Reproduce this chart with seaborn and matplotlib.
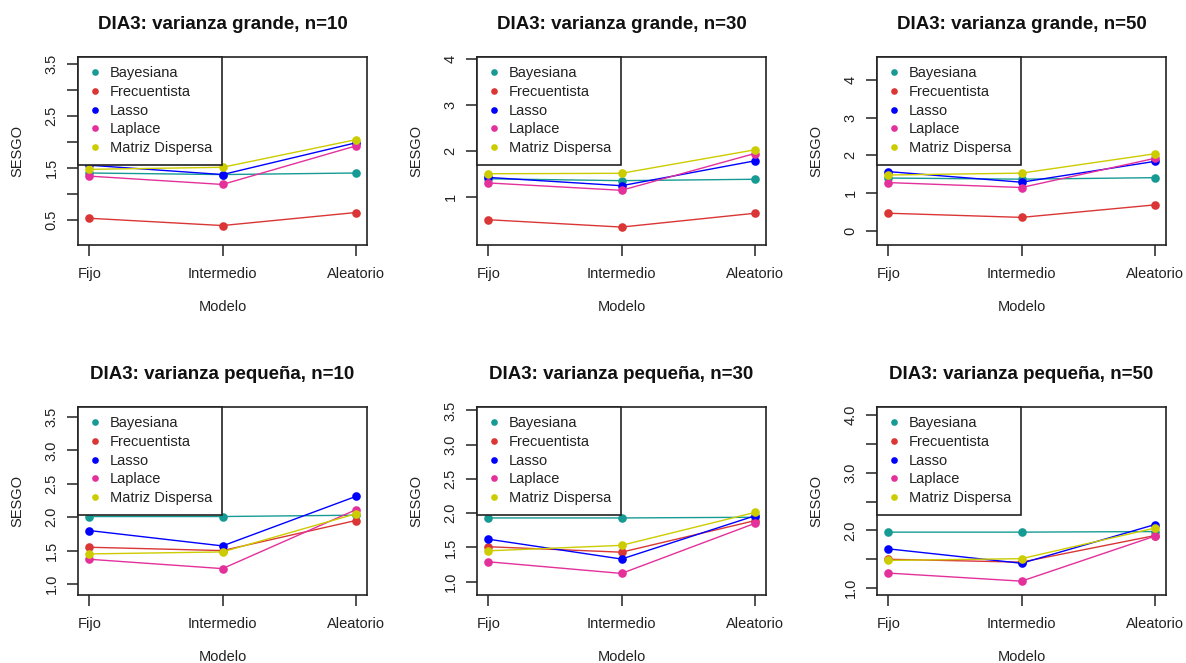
import numpy as np
import pandas as pd
import matplotlib
matplotlib.use("Agg")
import matplotlib.pyplot as plt
from matplotlib.lines import Line2D
import seaborn as sns

# ---------------- data ----------------
methods = ["Bayesiana", "Frecuentista", "Lasso", "Laplace", "Matriz Dispersa"]
modelos = ["Fijo", "Intermedio", "Aleatorio"]
titles = ["DIA3: varianza grande, n=10", "DIA3: varianza grande, n=30",
          "DIA3: varianza grande, n=50", "DIA3: varianza pequeña, n=10",
          "DIA3: varianza pequeña, n=30", "DIA3: varianza pequeña, n=50"]

# one row per panel (in the order of titles), one value per modelo
bayesiana = [[1.40, 1.37, 1.40], [1.40, 1.36, 1.39], [1.40, 1.37, 1.41],
             [2.01, 2.01, 2.03], [1.93, 1.93, 1.94], [1.97, 1.97, 1.98]]
frecuentista = [[0.53, 0.39, 0.64], [0.51, 0.35, 0.65], [0.47, 0.36, 0.69],
                [1.55, 1.50, 1.95], [1.51, 1.43, 1.89], [1.50, 1.45, 1.91]]
lasso = [[1.55, 1.37, 1.98], [1.43, 1.25, 1.79], [1.57, 1.29, 1.84],
         [1.80, 1.57, 2.31], [1.62, 1.33, 1.96], [1.68, 1.43, 2.10]]
laplace = [[1.34, 1.18, 1.92], [1.31, 1.15, 1.95], [1.28, 1.15, 1.92],
           [1.37, 1.23, 2.11], [1.29, 1.12, 1.85], [1.26, 1.12, 1.90]]
matriz = [[1.47, 1.51, 2.04], [1.51, 1.52, 2.03], [1.48, 1.53, 2.04],
          [1.45, 1.48, 2.05], [1.45, 1.53, 2.01], [1.48, 1.51, 2.04]]

# y-axis ticks and which of them carry labels
yticks = [[0.5, 1.0, 1.5, 2.0, 2.5, 3.0, 3.5], [1, 2, 3, 4], [0, 1, 2, 3, 4],
          [1.0, 1.5, 2.0, 2.5, 3.0, 3.5], [1.0, 1.5, 2.0, 2.5, 3.0, 3.5],
          [1.0, 1.5, 2.0, 2.5, 3.0, 3.5, 4.0]]
ytick_labels = [["0.5", "", "1.5", "", "2.5", "", "3.5"], ["1", "2", "3", "4"],
                ["0", "1", "2", "3", "4"],
                ["1.0", "1.5", "2.0", "2.5", "3.0", "3.5"],
                ["1.0", "1.5", "2.0", "2.5", "3.0", "3.5"],
                ["1.0", "", "2.0", "", "3.0", "", "4.0"]]
ylims = [(0.016, 3.63), (-0.04, 4.05), (-0.37, 4.6),
         (0.835, 3.65), (0.805, 3.55), (0.88, 4.14)]

colors = ["#169b94", "#da3636", "#0000ff", "#e3309b", "#cccc00"]

# ---------------- style ----------------
sns.set_theme(style="white")
plt.rcParams["font.family"] = ["Liberation Sans", "DejaVu Sans"]
plt.rcParams["axes.edgecolor"] = "#222222"

fig = plt.figure(figsize=(11.86, 6.63), dpi=100)
W, H = 1186, 663
lefts = [78, 477, 877]
tops = [57, 407]
aw, ah = 289, 188

series = [bayesiana, frecuentista, lasso, laplace, matriz]

for i, title in enumerate(titles):
    r, c = divmod(i, 3)
    ax = fig.add_axes([lefts[c] / W, 1 - (tops[r] + ah) / H, aw / W, ah / H])
    rows = []
    for m, arr in zip(methods, series):
        for mod, v in zip(modelos, arr[i]):
            rows.append({"Modelo": mod, "SESGO": v, "Metodo": m})
    df = pd.DataFrame(rows)
    sns.lineplot(data=df, x="Modelo", y="SESGO", hue="Metodo",
                 hue_order=methods, palette=colors, marker="o",
                 markersize=6.2, markeredgewidth=0, linewidth=1.0,
                 legend=False, ax=ax, sort=False)
    ax.set_xlim(-0.085, 2.085)
    ax.set_ylim(*ylims[i])
    ax.set_xticks(range(len(modelos)))
    ax.set_xticklabels(modelos)
    ax.set_yticks(yticks[i])
    ax.set_yticklabels(ytick_labels[i], rotation=90, va="center")
    ax.tick_params(axis="both", which="both", direction="out", length=8,
                   width=1.1, color="#222222", labelsize=10.5,
                   labelcolor="#222222", left=True, bottom=True)
    ax.tick_params(axis="x", pad=8)
    ax.tick_params(axis="y", pad=6)
    for s in ax.spines.values():
        s.set_linewidth(1.2)
        s.set_color("#222222")
    ax.set_title(title, fontsize=13.5, fontweight="bold", pad=20,
                 color="#111111")
    ax.set_xlabel("Modelo", fontsize=10.5, color="#222222")
    ax.set_ylabel("SESGO", fontsize=10.5, color="#222222")
    ax.xaxis.set_label_coords(0.5, -0.29)
    ax.yaxis.set_label_coords(-0.185, 0.5)

    handles = [Line2D([], [], ls="none", marker="o", color=col,
                      markersize=4.8, markeredgewidth=0) for col in colors]
    leg = ax.legend(handles, methods, loc="upper left",
                    bbox_to_anchor=(0, 1), borderaxespad=0,
                    fontsize=10.5, frameon=True, fancybox=False,
                    framealpha=1, edgecolor="#222222", borderpad=0.65,
                    labelspacing=0.32, handlelength=1.0, handletextpad=0.55)
    leg.get_frame().set_linewidth(1.2)
    for t in leg.get_texts():
        t.set_color("#222222")

fig.savefig("out.png", dpi=100, facecolor="white")
